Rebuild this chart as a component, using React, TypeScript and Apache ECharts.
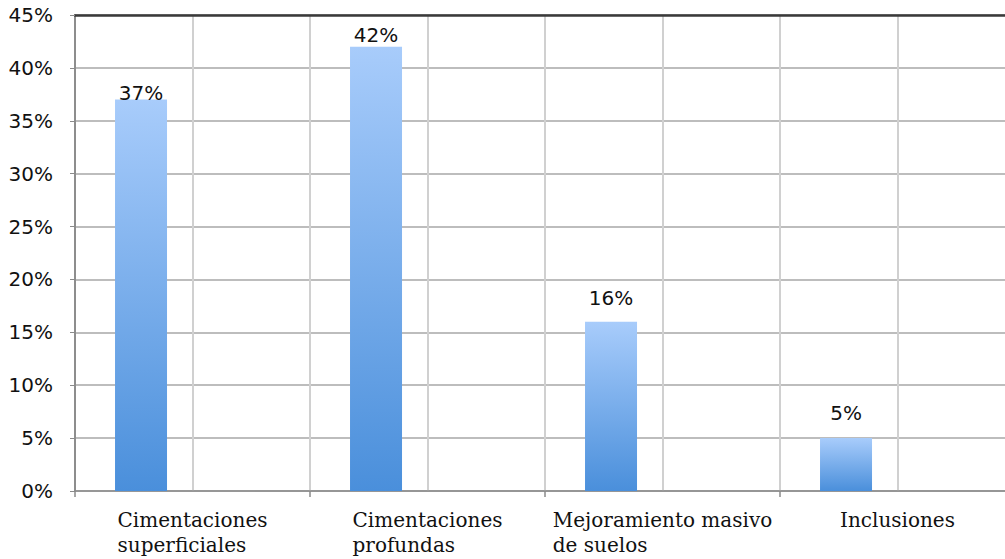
import React, { useEffect, useRef } from "react";
import * as echarts from "echarts";

// Share of foundation / ground-treatment solutions, in percent
const categories = [
  "Cimentaciones\nsuperficiales",
  "Cimentaciones\nprofundas",
  "Mejoramiento masivo\nde suelos",
  "Inclusiones",
];
const shares = [37, 42, 16, 5];
const yTicks = [0, 5, 10, 15, 20, 25, 30, 35, 40, 45];
// distance between each value label and its bar top (px)
const labelGap = [-3, 2, 14, 15];

const halfSlots = ["a", "b", "c", "d", "e", "f", "g", "h"];

export default function App() {
  const ref = useRef<HTMLDivElement>(null);

  useEffect(() => {
    document.body.style.margin = "0";
    document.body.style.overflow = "hidden";
    const chart = echarts.init(ref.current!, null, { renderer: "svg" });
    const sans = "'DejaVu Sans', sans-serif";
    const serif = "'DejaVu Serif', serif";

    chart.setOption({
      animation: false,
      backgroundColor: "#ffffff",
      grid: { left: 75, top: 15, bottom: 68, right: 0, containLabel: false },
      xAxis: [
        {
          type: "category",
          data: categories,
          position: "bottom",
          axisLine: { lineStyle: { color: "#8a8a8a", width: 1.5 } },
          axisTick: { show: true, length: 6, lineStyle: { color: "#8a8a8a", width: 1.5 } },
          splitLine: { show: false },
          axisLabel: {
            interval: 0,
            margin: 16,
            fontFamily: serif,
            fontSize: 20,
            color: "#111",
            lineHeight: 25,
            formatter: (v: string) =>
              v
                .split("\n")
                .map((l) => `{a|${l}}`)
                .join("\n"),
            rich: { a: { align: "left", fontFamily: serif, fontSize: 20, color: "#111", lineHeight: 25 } },
          },
        },
        {
          type: "category",
          data: halfSlots,
          position: "top",
          axisLine: { lineStyle: { color: "#3a3a3a", width: 2.5 } },
          axisTick: { show: false },
          axisLabel: { show: false },
          splitLine: { show: true, lineStyle: { color: "#d0d0d0", width: 2 } },
        },
      ],
      yAxis: {
        type: "value",
        min: 0,
        max: 45,
        interval: 5,
        axisLine: { show: true, lineStyle: { color: "#777", width: 1.5 } },
        axisTick: { show: true, length: 5, lineStyle: { color: "#8a8a8a" } },
        splitLine: { lineStyle: { color: "#bdbdbd", width: 2 } },
        axisLabel: {
          margin: 22,
          fontFamily: sans,
          fontSize: 20,
          color: "#111",
          formatter: (v: number) => (yTicks.includes(v) ? `${v}%` : ""),
        },
      },
      series: [
        {
          type: "bar",
          xAxisIndex: 0,
          barWidth: 52,
          barGap: "98%",
          data: shares.map((v, i) => ({
            value: v,
            label: { distance: labelGap[i] },
          })),
          itemStyle: {
            color: new echarts.graphic.LinearGradient(0, 0, 0, 1, [
              { offset: 0, color: "#a8ccfb" },
              { offset: 1, color: "#4a8fdb" },
            ]),
          },
          label: {
            show: true,
            position: "top",
            fontFamily: sans,
            fontSize: 20,
            color: "#111",
            formatter: (p: any) => `${p.value}%`,
          },
        },
        {
          type: "bar",
          xAxisIndex: 0,
          barWidth: 52,
          data: shares.map(() => null),
        },
      ],
    });

    return () => chart.dispose();
  }, []);

  return <div ref={ref} style={{ width: 1015, height: 559 }} />;
}
